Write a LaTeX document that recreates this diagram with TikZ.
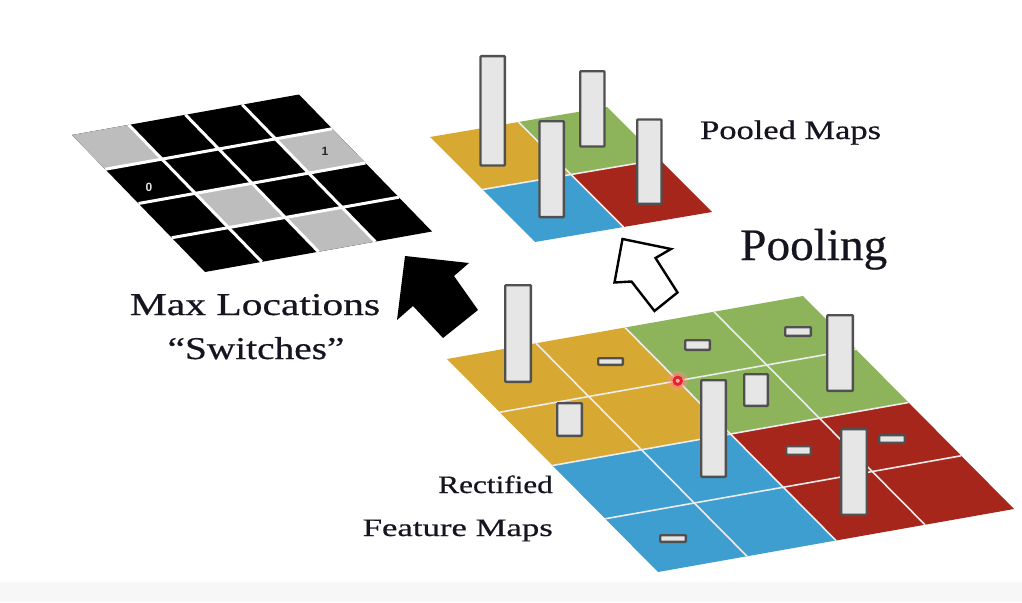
\documentclass[tikz,border=0pt]{standalone}
\usepackage{fontspec}
\setmainfont{Liberation Serif}
\newfontface\lblfont[FakeBold=0.5]{Liberation Serif}
\newfontface\numfont{Liberation Sans Bold}
\usepackage{graphicx}
\definecolor{cyel}{HTML}{D8A932}
\definecolor{cgrn}{HTML}{8DB45B}
\definecolor{cblu}{HTML}{3D9ECF}
\definecolor{cred}{HTML}{A7261B}
\definecolor{cbar}{HTML}{E6E6E6}
\definecolor{cbarb}{HTML}{505050}
\definecolor{cgray}{HTML}{BDBDBD}
\definecolor{ctext}{HTML}{15151F}
\definecolor{cdot}{HTML}{E8202A}
\definecolor{cline}{HTML}{ECECEC}
\tikzset{
  bar/.style={fill=cbar, draw=cbarb, line width=2.4pt, rounded corners=0.8pt},
  gline/.style={draw=cline, line width=1.6pt},
  lbl/.style={inner sep=0pt, text=ctext},
  cellnum/.style={inner sep=0pt, font=\numfont\fontsize{12}{12}\selectfont},
}
\begin{document}
\begin{tikzpicture}[x=1pt,y=-1pt]
\useasboundingbox (0,0) rectangle (1022,602);
\fill[white] (0,0) rectangle (1022,602);
\fill[black!3] (0,582) rectangle (1022,602);

% ---------- Max locations grid ----------
\begin{scope}[shift={(72,135)}, x={(56.75pt,10.125pt)}, y={(33.25pt,-34.25pt)}]
  \fill[black] (0,0)--(4,0)--(4,4)--(0,4)--cycle;
  \foreach \a/\b in {0/0,3/1,1/2,2/3}
    \fill[cgray] (\a,\b)--(\a+1,\b)--(\a+1,\b+1)--(\a,\b+1)--cycle;
  \foreach \k in {1,2,3} {
    \draw[white, line width=3pt] (\k,0)--(\k,4);
    \draw[white, line width=3pt] (0,\k)--(4,\k);
  }
\end{scope}
\node[cellnum, text=white!88!black] (z0) at (149,187) {0};
\node[cellnum, text=black!85] (z1) at (325,151) {1};

% ---------- Pooled grid ----------
\begin{scope}[shift={(430,137)}, x={(88.5pt,15pt)}, y={(52.5pt,-52.5pt)}]
  \fill[cyel] (0,0)--(1,0)--(1,1)--(0,1)--cycle;
  \fill[cgrn] (1,0)--(2,0)--(2,1)--(1,1)--cycle;
  \fill[cblu] (0,1)--(1,1)--(1,2)--(0,2)--cycle;
  \fill[cred] (1,1)--(2,1)--(2,2)--(1,2)--cycle;
  \draw[gline] (1,0)--(1,2);
  \draw[gline] (0,1)--(2,1);
\end{scope}
\draw[bar] (480.5,56.2) rectangle (504.8,165.5);
\draw[bar] (580.2,71.2) rectangle (604.5,146.5);
\draw[bar] (539.5,121.2) rectangle (563.8,217.1);
\draw[bar] (637.2,119.5) rectangle (661.5,203.8);

% ---------- Rectified feature maps grid ----------
\begin{scope}[shift={(447,359)}, x={(89pt,15.75pt)}, y={(52.75pt,-53.25pt)}]
  \fill[cyel] (0,0)--(2,0)--(2,2)--(0,2)--cycle;
  \fill[cgrn] (2,0)--(4,0)--(4,2)--(2,2)--cycle;
  \fill[cblu] (0,2)--(2,2)--(2,4)--(0,4)--cycle;
  \fill[cred] (2,2)--(4,2)--(4,4)--(2,4)--cycle;
  \foreach \k in {1,2,3} {
    \draw[gline] (\k,0)--(\k,4);
    \draw[gline] (0,\k)--(4,\k);
  }
  \coordinate (dot) at (2,1);
\end{scope}
% max-location marker
\fill[red!40, opacity=0.3] (dot) circle (10);
\fill[red!55, opacity=0.45] (dot) circle (7.5);
\fill[cdot] (dot) circle (5.2);
\fill[red!30] (dot) circle (2);

\draw[bar] (505.2,285.2) rectangle (530.8,381.8);
\draw[bar] (598.2,358.2) rectangle (622.8,364.8);
\draw[bar] (557.2,403.2) rectangle (581.8,435.8);
\draw[bar] (685.2,340.2) rectangle (709.8,349.8);
\draw[bar] (785.2,327.2) rectangle (810.8,335.8);
\draw[bar] (827.2,315.2) rectangle (852.8,390.8);
\draw[bar] (744.2,374.2) rectangle (767.8,405.8);
\draw[bar] (701.2,380.2) rectangle (725.8,476.8);
\draw[bar] (786.2,446.2) rectangle (810.8,454.8);
\draw[bar] (879.2,435.2) rectangle (904.8,442.8);
\draw[bar] (841.2,429.2) rectangle (866.8,514.8);
\draw[bar] (660.2,535.2) rectangle (685.8,541.8);

% ---------- arrows ----------
\fill[black] (405,256)--(469,263)--(454,276)--(478,310)--(443,338)--(413,306)--(397,320)--cycle;
\draw[black, fill=white, line width=2.4pt, line join=miter]
  (622.5,239)--(671,249)--(655.5,258)--(677.5,292.5)--(654.5,311)--(631.5,281.5)--(614.5,282.5)--cycle;

% ---------- labels ----------
\node[lbl, anchor=base west] (pm) at (700,139)
  {\scalebox{1.29}[1]{\lblfont\fontsize{26.7}{30}\selectfont Pooled Maps}};
\node[lbl, anchor=base west] (pool) at (740,260)
  {\scalebox{1.05}[1]{\lblfont\fontsize{45}{50}\selectfont Pooling}};
\node[lbl, anchor=base] (maxloc) at (255,315)
  {\scalebox{1.31}[1]{\lblfont\fontsize{31.7}{36}\selectfont Max Locations}};
\node[lbl, anchor=base] (switches) at (256,359)
  {\scalebox{1.24}[1]{\lblfont\fontsize{31.7}{36}\selectfont “Switches”}};
\node[lbl, anchor=base east] (rect) at (553,493)
  {\scalebox{1.25}[1]{\lblfont\fontsize{25}{28}\selectfont Rectified}};
\node[lbl, anchor=base east] (feat) at (553,536)
  {\scalebox{1.39}[1]{\lblfont\fontsize{25}{28}\selectfont Feature Maps}};
\end{tikzpicture}
\end{document}
